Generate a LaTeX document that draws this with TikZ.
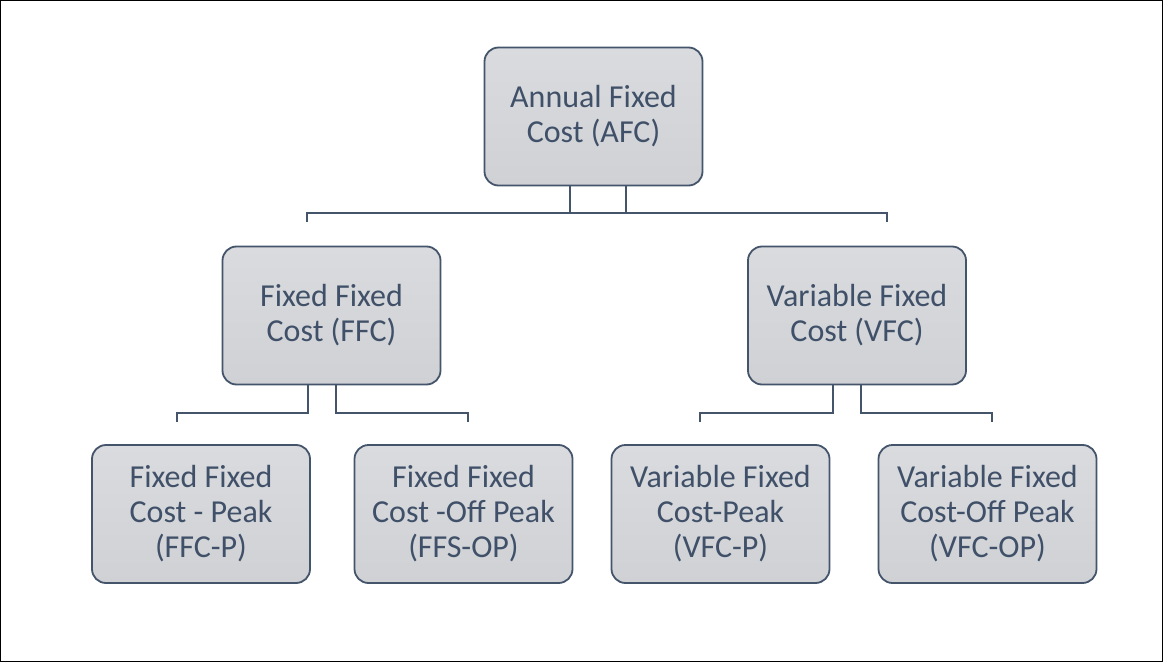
\documentclass[tikz,border=0pt]{standalone}
\usepackage{fontspec}
\setmainfont{Carlito}
\definecolor{edge}{HTML}{44546A}
\definecolor{ink}{HTML}{3F5068}
\definecolor{boxtop}{HTML}{D9DBDE}
\definecolor{boxbot}{HTML}{CFD1D5}
\tikzset{
  costbox/.style={draw=edge, line width=1.8pt, rounded corners=14pt,
    top color=boxtop, bottom color=boxbot,
    minimum width=218pt, minimum height=138pt, inner sep=0pt,
    align=center, text=ink, font=\fontsize{32}{35}\selectfont},
  conn/.style={draw=edge, line width=2.8pt, line cap=butt}
}
\begin{document}
\begin{tikzpicture}[x=1pt,y=-1pt]
  \useasboundingbox (0,0) rectangle (1164,663);
  \draw[line width=1.2pt] (0.7,0.7) rectangle (1162.3,661.3);
  % Boxes
  \node[costbox] (afc)  at (593.5,116.5) {Annual Fixed\\Cost (AFC)};
  \node[costbox] (ffc)  at (331.5,315.5) {Fixed Fixed\\Cost (FFC)};
  \node[costbox] (vfc)  at (857,315.5)   {Variable Fixed\\Cost (VFC)};
  \node[costbox] (ffcp) at (201,514)     {Fixed Fixed\\Cost - Peak\\(FFC-P)};
  \node[costbox] (ffso) at (463.5,514)   {Fixed Fixed\\Cost -Off Peak\\(FFS-OP)};
  \node[costbox] (vfcp) at (720.5,514)   {Variable Fixed\\Cost-Peak\\(VFC-P)};
  \node[costbox] (vfco) at (987.5,514)   {Variable Fixed\\Cost-Off Peak\\(VFC-OP)};
  % Bus ends
  \coordinate (a1) at (307,222); \coordinate (a2) at (887,222);
  \coordinate (f1) at (177,422); \coordinate (f2) at (468,422);
  \coordinate (v1) at (700,422); \coordinate (v2) at (992,422);
  % Connectors
  \draw[conn] ([xshift=-23.5pt]afc.south) |- (a1 |- 0,213) -- (a1);
  \draw[conn] ([xshift=32.5pt]afc.south) |- (a2 |- 0,213) -- (a2);
  \draw[conn] ([xshift=-23.5pt]afc.south |- 0,213) -- ([xshift=32.5pt]afc.south |- 0,213);
  \draw[conn] ([xshift=-23.5pt]ffc.south) |- (f1 |- 0,413) -- (f1);
  \draw[conn] ([xshift=4.5pt]ffc.south) |- (f2 |- 0,413) -- (f2);
  \draw[conn] ([xshift=-24pt]vfc.south) |- (v1 |- 0,413) -- (v1);
  \draw[conn] ([xshift=4pt]vfc.south) |- (v2 |- 0,413) -- (v2);
\end{tikzpicture}
\end{document}
